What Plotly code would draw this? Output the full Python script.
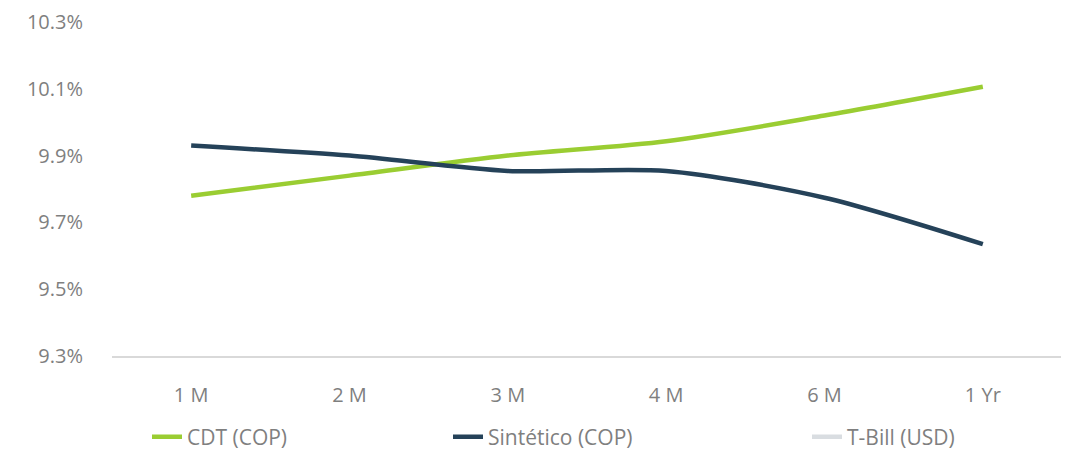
import plotly.graph_objects as go

categories = ["1 M", "2 M", "3 M", "4 M", "6 M", "1 Yr"]
cdt_cop = [0.0978, 0.0984, 0.0990, 0.09943, 0.10020, 0.10106]
sintetico_cop = [0.0993, 0.0990, 0.09854, 0.09854, 0.09774, 0.09635]
tbill_usd = [0.0545, 0.0547, 0.0550, 0.0550, 0.0545, 0.0530]
y_ticks = [0.093, 0.095, 0.097, 0.099, 0.101, 0.103]

GRAY = "#7f7f7f"
FONT = "Open Sans"
W, H = 1061, 446

fig = go.Figure()
fig.add_trace(go.Scatter(x=categories, y=cdt_cop, name="CDT (COP)", mode="lines", legend="legend",
                         line=dict(color="#9acd32", width=4.5, shape="spline", smoothing=0.8)))
fig.add_trace(go.Scatter(x=categories, y=sintetico_cop, name="Sintético (COP)", mode="lines", legend="legend2",
                         line=dict(color="#254259", width=4.5, shape="spline", smoothing=0.8)))
fig.add_trace(go.Scatter(x=categories, y=tbill_usd, name="T-Bill (USD)", mode="lines", legend="legend3",
                         line=dict(color="#d9dde1", width=4.5, shape="spline", smoothing=0.8)))

def leg(xpx):
    return dict(orientation="h", xref="container", x=xpx / W, xanchor="left",
                yref="container", y=1 - 429 / H, yanchor="middle",
                font=dict(size=21, color=GRAY, family=FONT), bgcolor="rgba(0,0,0,0)")

fig.update_layout(
    width=W, height=H,
    margin=dict(l=104, r=7, t=14, b=98, autoexpand=False),
    paper_bgcolor="white", plot_bgcolor="white",
    font=dict(family=FONT, color=GRAY, size=20),
    showlegend=True,
    legend=leg(139), legend2=leg(440), legend3=leg(799),
    xaxis=dict(range=[-0.5, 5.5], showgrid=False, showline=True, linecolor="#d9d9d9",
               linewidth=1.5, ticks="", ticklabelstandoff=20, tickfont=dict(size=20, color=GRAY)),
    yaxis=dict(range=[0.093, 0.1030001], tickmode="array", tickvals=y_ticks, tickformat=".1%",
               showgrid=False, zeroline=False, showline=False, ticks="",
               ticklabeloverflow="allow",
               ticklabelstandoff=28, tickfont=dict(size=20, color=GRAY)),
)

fig.write_html("out.html")
